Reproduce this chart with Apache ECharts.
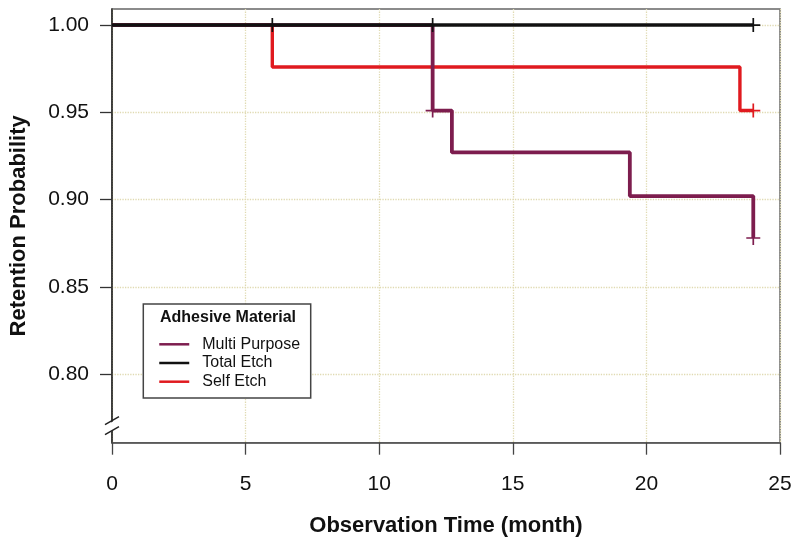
<!DOCTYPE html>
<html>
<head>
<meta charset="utf-8">
<script src="https://cdn.jsdelivr.net/npm/echarts@6/dist/echarts.min.js"></script>
<style>html,body{margin:0;padding:0;background:#fff}#c{width:800px;height:550px}</style>
</head>
<body>
<div id="c"></div>
<script>
// ---- data ----
var seriesNames = ['Multi Purpose', 'Total Etch', 'Self Etch'];
var mpTimes = [0, 12, 12.72, 19.38, 24];
var mpSurv  = [1.0, 0.951, 0.927, 0.902, 0.878];
var teTimes = [0, 24];
var teSurv  = [1.0, 1.0];
var seTimes = [0, 6, 23.5, 24];
var seSurv  = [1.0, 0.976, 0.951, 0.951];
var mpCensorT = [12, 24];
var mpCensorS = [0.951, 0.878];
var teCensorT = [6, 12, 24];
var teCensorS = [1.0, 1.0, 1.0];
var seCensorT = [24];
var seCensorS = [0.951];
var xTicks = [0, 5, 10, 15, 20, 25];
var yTicks = [0.80, 0.85, 0.90, 0.95, 1.00];

function zip(a, b) { return a.map(function (v, i) { return [v, b[i]]; }); }

var colors = { 'Multi Purpose': '#7d1d4e', 'Total Etch': '#111111', 'Self Etch': '#e01a1f' };
var FONT = 'Liberation Sans, Arial, sans-serif';
var plus = 'path://M0,-1L0,1M-1,0L1,0';

var chart = echarts.init(document.getElementById('c'), null, { renderer: 'canvas' });

function censor(name, t, s) {
  return {
    name: name + ' censored', type: 'scatter', data: zip(t, s),
    symbol: plus, symbolSize: 14, z: 5,
    itemStyle: { color: 'transparent', borderColor: colors[name], borderWidth: 1.7, opacity: 1 },
    emphasis: { disabled: true }, silent: true
  };
}
function km(name, t, s, w) {
  return {
    name: name, type: 'line', step: 'end', data: zip(t, s), symbol: 'none',
    lineStyle: { color: colors[name], width: w }, itemStyle: { color: colors[name] },
    emphasis: { disabled: true }, silent: true, z: 3
  };
}

var option = {
  backgroundColor: '#fff',
  animation: false,
  grid: { left: 111, right: 20, top: 9, bottom: 107.3, show: true, borderColor: '#666', borderWidth: 1.5, backgroundColor: 'transparent' },
  xAxis: {
    type: 'value', min: 0, max: 25, interval: 5,
    name: 'Observation Time (month)', nameLocation: 'middle', nameGap: 72,
    nameTextStyle: { fontFamily: FONT, fontWeight: 'bold', fontSize: 22, color: '#111' },
    axisLine: { show: true, lineStyle: { color: '#555', width: 1.5 } },
    axisTick: { show: true, length: 12, lineStyle: { color: '#444', width: 1.3 } },
    axisLabel: { fontFamily: FONT, fontSize: 21, color: '#111', margin: 31 },
    splitLine: { show: true, lineStyle: { color: '#e0dab2', type: 'dotted', width: 1.3 } }
  },
  yAxis: {
    type: 'value', min: 0.7607, max: 1.0092,
    name: 'Retention Probability', nameLocation: 'middle', nameGap: 82,
    nameTextStyle: { fontFamily: FONT, fontWeight: 'bold', fontSize: 22, color: '#111' },
    axisLine: { show: true, lineStyle: { color: '#222', width: 1.5 } },
    axisTick: { show: true, length: 12, customValues: yTicks, lineStyle: { color: '#333', width: 1.3 } },
    axisLabel: { fontFamily: FONT, fontSize: 21, color: '#111', margin: 23, customValues: yTicks,
      formatter: function (v) { return v.toFixed(2); } },
    splitLine: { show: true, lineStyle: { color: '#e0dab2', type: 'dotted', width: 1.3 } }
  },
  legend: {
    data: seriesNames, orient: 'vertical', left: 158, top: 336.3, padding: 0, z: 30,
    itemWidth: 30, itemHeight: 16, itemGap: 2.7, selectedMode: false,
    itemStyle: { opacity: 0 },
    lineStyle: { width: 2.5, opacity: 1 },
    textStyle: { fontFamily: FONT, fontSize: 16, color: '#111', lineHeight: 16, padding: [0, 0, 0, 8] }
  },
  series: [
    km('Self Etch', seTimes, seSurv, 3.4),
    km('Multi Purpose', mpTimes, mpSurv, 3.8),
    km('Total Etch', teTimes, teSurv, 3.6),
    censor('Self Etch', seCensorT, seCensorS),
    censor('Multi Purpose', mpCensorT, mpCensorS),
    censor('Total Etch', teCensorT, teCensorS)
  ]
};
chart.setOption(option);

// axis break marker and legend frame / title
var p = chart.convertToPixel({ gridIndex: 0 }, [0, 0.7705]);
var bx = p[0], by = p[1];
chart.setOption({
  graphic: [
    { type: 'polygon', z: 100, shape: { points: [[bx - 8, by + 1], [bx + 8, by - 8], [bx + 8, by + 1], [bx - 8, by + 10]] }, style: { fill: '#fff' } },
    { type: 'line', z: 101, shape: { x1: bx - 7, y1: by - 1, x2: bx + 7, y2: by - 9 }, style: { stroke: '#222', lineWidth: 1.4 } },
    { type: 'line', z: 101, shape: { x1: bx - 7, y1: by + 9, x2: bx + 7, y2: by + 1 }, style: { stroke: '#222', lineWidth: 1.4 } },
    { type: 'rect', z: 10, shape: { x: 143.3, y: 304, width: 167.4, height: 94 }, style: { fill: '#fff', stroke: '#444', lineWidth: 1.5 } },
    { type: 'text', z: 11, x: 160, y: 318, style: { text: 'Adhesive Material', font: 'bold 16px ' + FONT, fill: '#111', verticalAlign: 'middle' } }
  ]
});
</script>
</body>
</html>
